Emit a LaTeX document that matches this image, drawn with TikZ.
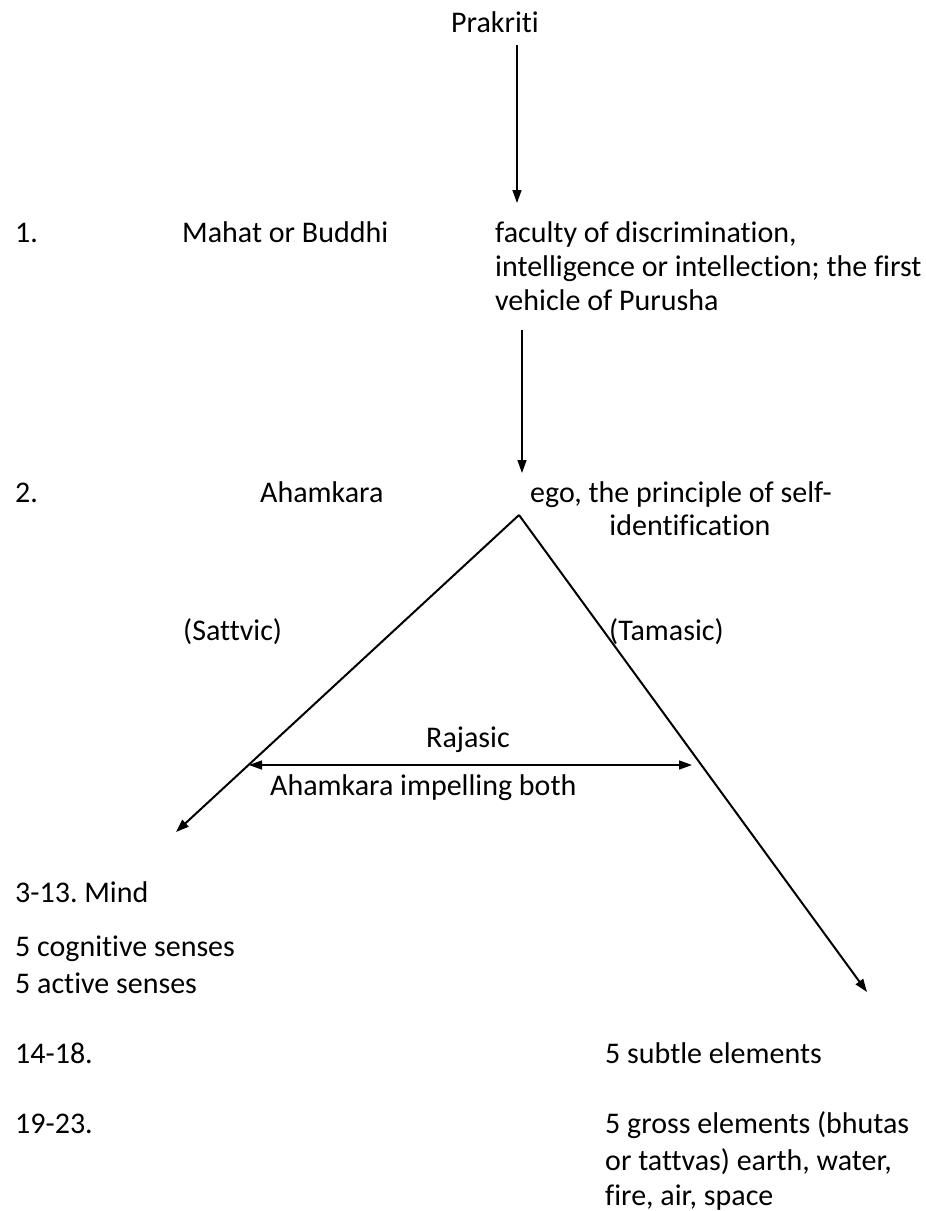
\documentclass[tikz,border=0pt]{standalone}
\usepackage{fontspec}
\setmainfont{Carlito}[Ligatures=NoCommon]
\usetikzlibrary{arrows.meta}

\begin{document}
\frenchspacing
\begin{tikzpicture}[x=1pt,y=-1pt,
  txt/.style={anchor=base west,inner sep=0pt},
  arr/.style={-{Triangle[length=13pt,width=9pt]},line width=1.5pt}]
\fontsize{30}{36}\selectfont
\useasboundingbox (0,0) rectangle (926,1211);
				\node[txt,anchor=base] (prakriti) at (495,32) {Prakriti};
				\coordinate (a1s) at (517,45);
				\coordinate (a1e) at (517,203);
				\draw[arr] (a1s) -- (a1e);
				\node[txt] (n1) at (15,242) {1.};
				\node[txt] (mahat) at (182,242) {Mahat or Buddhi};
				\node[txt] (fac1) at (495,242) {faculty of discrimination,};
				\node[txt] (fac2) at (495,276) {intelligence or intellection; the first};
				\node[txt] (fac3) at (495,310) {vehicle of Purusha};
				\coordinate (a2s) at (522,330);
				\coordinate (a2e) at (522,473);
				\draw[arr] (a2s) -- (a2e);
				\node[txt] (n2) at (15,502) {2.};
				\node[txt] (aham) at (260,502) {Ahamkara};
				\node[txt] (ego1) at (530,502) {ego, the principle of self-};
				\node[txt,anchor=base] (ego2) at (690,535) {identification};
				\coordinate (apex) at (519,515);
				\coordinate (ltip) at (176,832);
				\coordinate (rtip) at (867,992);
				\draw[arr,line width=2pt] (apex) -- (ltip);
				\draw[arr,line width=2pt] (apex) -- (rtip);
				\node[txt] (sattvic) at (183,640) {(Sattvic)};
				\node[txt] (tamasic) at (609,640) {(Tamasic)};
				\node[txt,anchor=base] (rajasic) at (468,747) {Rajasic};
				\coordinate (dl) at (249,765);
				\coordinate (dr) at (692,765);
				\draw[{Triangle[length=13pt,width=9pt]}-{Triangle[length=13pt,width=9pt]},line width=1.5pt] (dl) -- (dr);
				\node[txt] (impel) at (270,795) {Ahamkara impelling both};
				\node[txt] (mind) at (15,902) {3-13. Mind};
				\node[txt] (cog) at (15,956) {5 cognitive senses};
				\node[txt] (act) at (15,993) {5 active senses};
				\node[txt] (n14) at (15,1063) {14-18.};
				\node[txt] (subtle) at (605,1063) {5 subtle elements};
				\node[txt] (n19) at (15,1133) {19-23.};
				\node[txt] (gross1) at (605,1133) {5 gross elements (bhutas};
				\node[txt] (gross2) at (605,1170) {or tattvas) earth, water,};
				\node[txt] (gross3) at (605,1205) {fire, air, space};
\end{tikzpicture}
\end{document}
